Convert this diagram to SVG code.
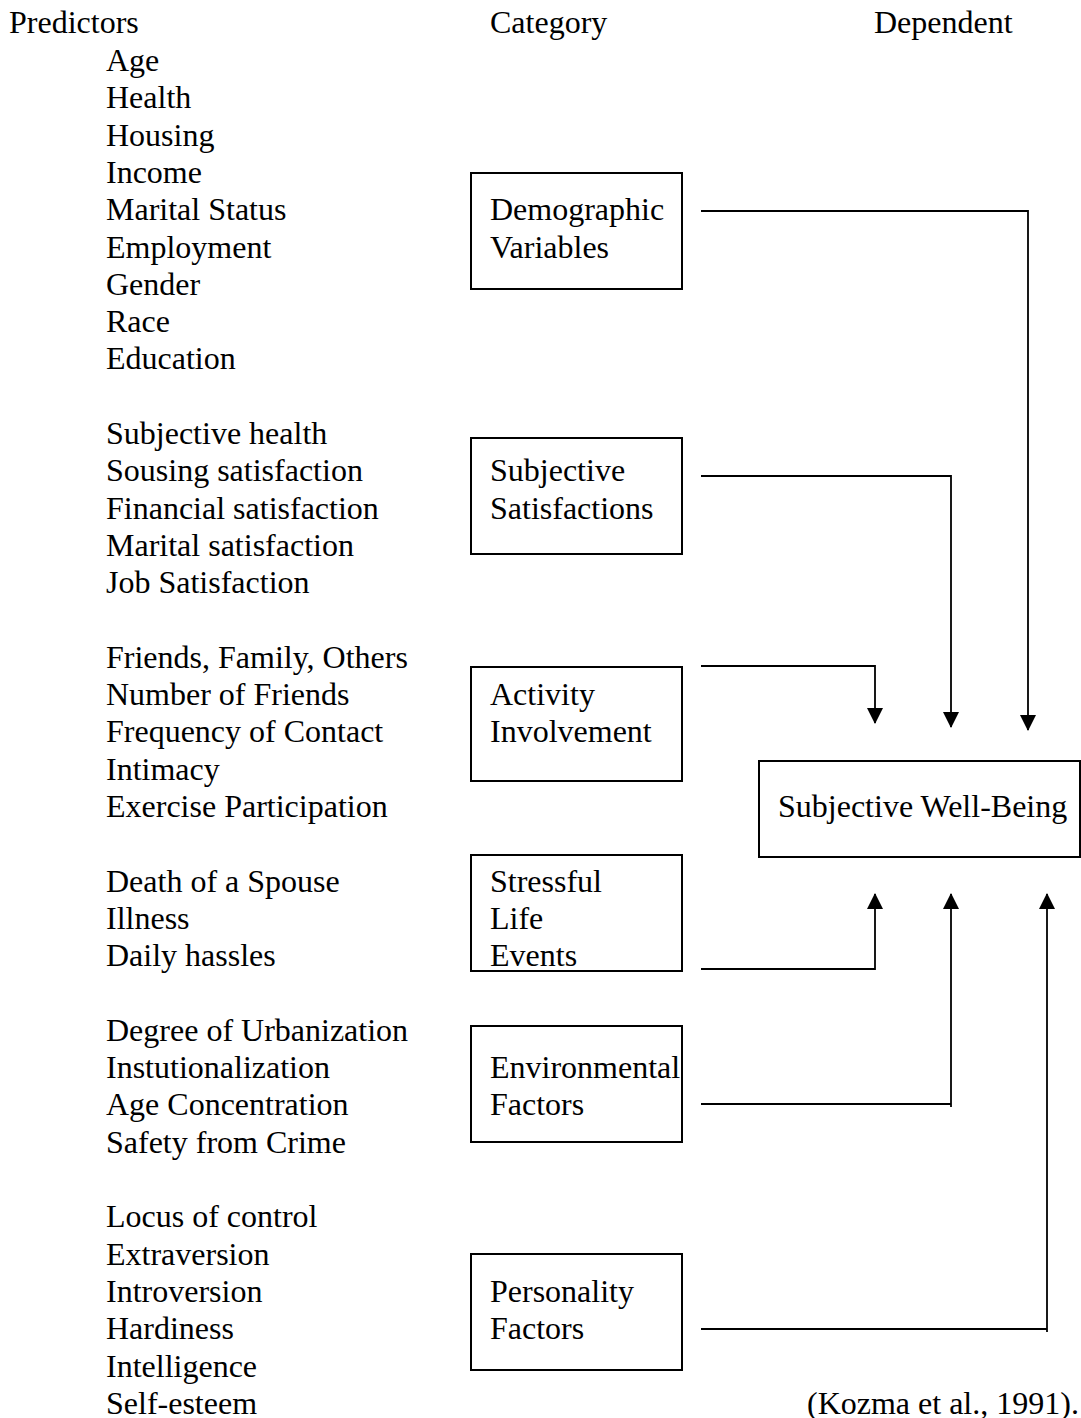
<svg xmlns="http://www.w3.org/2000/svg" width="1081" height="1418" viewBox="0 0 1081 1418">
<style>
text{font-family:"Liberation Serif","Times New Roman",serif;font-size:32px;fill:#000}
.box{fill:#fff;stroke:#000;stroke-width:2}
.ln{fill:none;stroke:#000;stroke-width:1.8}
</style>
<defs>
<marker id="ah" viewBox="0 0 16 16" refX="15" refY="8" markerWidth="16" markerHeight="16" markerUnits="userSpaceOnUse" orient="auto">
<path d="M0,0 L16,8 L0,16 Z" fill="#000"/>
</marker>
</defs>
<rect width="1081" height="1418" fill="#fff"/>
<g id="headers">
<text x="9" y="33">Predictors</text>
<text x="490" y="33">Category</text>
<text x="874" y="33">Dependent</text>
</g>
<g id="predictors">
<text x="106" y="71">Age</text>
<text x="106" y="108.3">Health</text>
<text x="106" y="145.6">Housing</text>
<text x="106" y="182.9">Income</text>
<text x="106" y="220.2">Marital Status</text>
<text x="106" y="257.5">Employment</text>
<text x="106" y="294.8">Gender</text>
<text x="106" y="332.1">Race</text>
<text x="106" y="369.4">Education</text>
<text x="106" y="444">Subjective health</text>
<text x="106" y="481.3">Sousing satisfaction</text>
<text x="106" y="518.6">Financial satisfaction</text>
<text x="106" y="555.9">Marital satisfaction</text>
<text x="106" y="593.2">Job Satisfaction</text>
<text x="106" y="667.8">Friends, Family, Others</text>
<text x="106" y="705.1">Number of Friends</text>
<text x="106" y="742.4">Frequency of Contact</text>
<text x="106" y="779.7">Intimacy</text>
<text x="106" y="817">Exercise Participation</text>
<text x="106" y="891.6">Death of a Spouse</text>
<text x="106" y="928.9">Illness</text>
<text x="106" y="966.2">Daily hassles</text>
<text x="106" y="1040.8">Degree of Urbanization</text>
<text x="106" y="1078.1">Instutionalization</text>
<text x="106" y="1115.4">Age Concentration</text>
<text x="106" y="1152.7">Safety from Crime</text>
<text x="106" y="1227.3">Locus of control</text>
<text x="106" y="1264.6">Extraversion</text>
<text x="106" y="1301.9">Introversion</text>
<text x="106" y="1339.2">Hardiness</text>
<text x="106" y="1376.5">Intelligence</text>
<text x="106" y="1413.8">Self-esteem</text>
</g>
<g id="node-demographic">
<rect class="box" x="471" y="173" width="211" height="116"/>
<text x="490" y="220.2">Demographic</text>
<text x="490" y="257.5">Variables</text>
</g>
<g id="node-satisfactions">
<rect class="box" x="471" y="438" width="211" height="116"/>
<text x="490" y="481.3">Subjective</text>
<text x="490" y="518.6">Satisfactions</text>
</g>
<g id="node-activity">
<rect class="box" x="471" y="667" width="211" height="114"/>
<text x="490" y="705.1">Activity</text>
<text x="490" y="742.4">Involvement</text>
</g>
<g id="node-stressful">
<rect class="box" x="471" y="855" width="211" height="116"/>
<text x="490" y="891.6">Stressful</text>
<text x="490" y="928.9">Life</text>
<text x="490" y="966.2">Events</text>
</g>
<g id="node-environmental">
<rect class="box" x="471" y="1026" width="211" height="116"/>
<text x="490" y="1078.1">Environmental</text>
<text x="490" y="1115.4">Factors</text>
</g>
<g id="node-personality">
<rect class="box" x="471" y="1254" width="211" height="116"/>
<text x="490" y="1301.9">Personality</text>
<text x="490" y="1339.2">Factors</text>
</g>
<g id="node-swb">
<rect class="box" x="759" y="761" width="321" height="96"/>
<text x="778" y="817">Subjective Well-Being</text>
</g>
<g id="connectors">
<path class="ln" d="M701,211 H1028 V730" marker-end="url(#ah)"/>
<path class="ln" d="M701,476 H951 V727" marker-end="url(#ah)"/>
<path class="ln" d="M701,666 H875 V723" marker-end="url(#ah)"/>
<path class="ln" d="M701,969 H875 V894" marker-end="url(#ah)"/>
<path class="ln" d="M701,1104 H951"/>
<path class="ln" d="M951,1107 V894" marker-end="url(#ah)"/>
<path class="ln" d="M701,1329 H1047"/>
<path class="ln" d="M1047,1332 V894" marker-end="url(#ah)"/>
</g>
<g id="citation">
<text x="807" y="1413.8">(Kozma et al., 1991).</text>
</g>
</svg>
